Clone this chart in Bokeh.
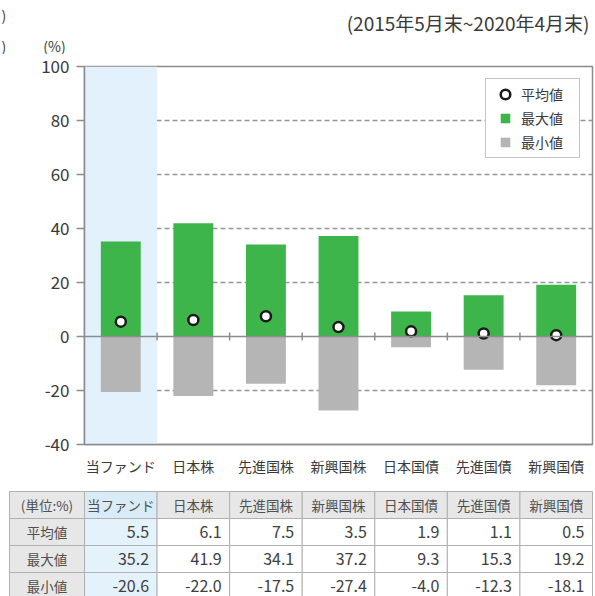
from bokeh.plotting import figure
from bokeh.models import (FactorRange, Range1d, FixedTicker, Span, Legend,
                          LegendItem, ColumnDataSource)
from bokeh.layouts import column
from bokeh.core.properties import value
from bokeh.embed import file_html
from bokeh.resources import INLINE

# ---------------- data ----------------
categories = ["当ファンド", "日本株", "先進国株", "新興国株", "日本国債", "先進国債", "新興国債"]
mean_vals = [5.5, 6.1, 7.5, 3.5, 1.9, 1.1, 0.5]
max_vals = [35.2, 41.9, 34.1, 37.2, 9.3, 15.3, 19.2]
min_vals = [-20.6, -22.0, -17.5, -27.4, -4.0, -12.3, -18.1]
row_labels = ["平均値", "最大値", "最小値"]
unit_label = "(単位:%)"
y_ticks = [-40, -20, 0, 20, 40, 60, 80, 100]
period_text = "(2015年5月末~2020年4月末)"
unit_text = "(%)"

FONT = "Noto Sans CJK JP"
GREEN = "#3db54a"
GRAY = "#b5b5b5"
BLUE = "#e2f1fc"
LINE = "#8c8c8c"
TXT = "#3a3a3a"
PAGE_W = 595

ymin, ymax = y_ticks[0], y_ticks[-1]


def no_align(fig):
    try:
        fig.frame_align = False
    except Exception:
        pass


# ---------------- header ----------------
HH = 54
h = figure(width=PAGE_W, height=HH, x_range=Range1d(0, PAGE_W), y_range=Range1d(HH, 0),
           output_backend="svg", toolbar_location=None, min_border=0,
           x_axis_location=None, y_axis_location=None)
h.grid.grid_line_color = None
h.outline_line_color = None
h.text(x=[589], y=[22], text=[period_text], text_align="right", text_baseline="middle",
       text_font=value(FONT), text_font_size="19px", text_color=TXT)
h.text(x=[54], y=[45], text=[unit_text], text_align="center", text_baseline="middle",
       text_font=value(FONT), text_font_size="14px", text_color=TXT)
# fragments of neighbouring content at the left edge
h.text(x=[1, 1], y=[14, 45], text=[")", ")"], text_align="left", text_baseline="middle",
       text_font=value(FONT), text_font_size="14px", text_color=TXT)
no_align(h)

# ---------------- chart ----------------
p = figure(width=PAGE_W, height=430, x_range=FactorRange(*categories, range_padding=0),
           y_range=Range1d(ymin, ymax), output_backend="svg", toolbar_location=None,
           min_border_left=84, min_border_right=3, min_border_top=12, min_border_bottom=40)
p.background_fill_color = "white"
p.border_fill_color = "white"
p.outline_line_color = LINE
p.outline_line_width = 1.5
no_align(p)

# highlighted first category band
p.vbar(x=[categories[0]], width=1, bottom=ymin, top=ymax, fill_color=BLUE, line_color=None)

# grid
p.xgrid.grid_line_color = None
p.ygrid.ticker = FixedTicker(ticks=[t for t in y_ticks if t not in (ymin, 0, ymax)])
p.ygrid.grid_line_color = "#959595"
p.ygrid.grid_line_dash = "5 3"
p.ygrid.grid_line_width = 1.3

src = ColumnDataSource(dict(cat=categories, mean=mean_vals, mx=max_vals, mn=min_vals))
p.vbar(x="cat", top="mx", bottom=0, width=0.55, source=src, fill_color=GREEN, line_color=None)
p.vbar(x="cat", top=0, bottom="mn", width=0.55, source=src, fill_color=GRAY, line_color=None)

p.add_layout(Span(location=0, dimension="width", line_color=LINE, line_width=1.5))
bounds = list(range(1, len(categories)))
p.segment(x0=bounds, x1=bounds, y0=[-1.5] * len(bounds), y1=[1.5] * len(bounds),
          line_color=LINE, line_width=1.5)

r_mean = p.scatter(x="cat", y="mean", source=src, marker="circle", size=10,
                   fill_color="white", line_color="#1a1a1a", line_width=2.5)

# legend proxies (zero-size markers; the legend sizes them from its glyph box)
px_max = p.scatter(x="cat", y="mx", source=src, marker="square", size=0, fill_color=GREEN, line_color=None)
px_min = p.scatter(x="cat", y="mn", source=src, marker="square", size=0, fill_color=GRAY, line_color=None)

legend = Legend(items=[LegendItem(label=row_labels[0], renderers=[r_mean]),
                       LegendItem(label=row_labels[1], renderers=[px_max]),
                       LegendItem(label=row_labels[2], renderers=[px_min])],
                location="top_right", margin=12, padding=3, spacing=0,
                glyph_width=32, glyph_height=24, label_height=24, label_width=55,
                label_standoff=0, label_text_font_size="14px", label_text_font=FONT,
                label_text_color=TXT, border_line_color=LINE, border_line_width=1.5,
                background_fill_color="white", background_fill_alpha=1)
p.add_layout(legend)

# axes
p.yaxis.ticker = FixedTicker(ticks=y_ticks)
p.yaxis.major_label_overrides = {t: str(t) for t in y_ticks}
p.yaxis.axis_line_color = LINE
p.yaxis.axis_line_width = 1.5
p.yaxis.major_tick_line_color = LINE
p.yaxis.major_tick_line_width = 1.5
p.yaxis.major_tick_out = 8
p.yaxis.major_tick_in = 0
p.yaxis.minor_tick_line_color = None
p.yaxis.major_label_text_font_size = "17px"
p.yaxis.major_label_text_font = FONT
p.yaxis.major_label_text_color = TXT
p.yaxis.major_label_standoff = 7

p.xaxis.axis_line_color = LINE
p.xaxis.axis_line_width = 1.5
p.xaxis.major_tick_line_color = None
p.xaxis.minor_tick_line_color = None
p.xaxis.major_label_text_font_size = "14px"
p.xaxis.major_label_text_font = FONT
p.xaxis.major_label_text_color = TXT
p.xaxis.major_label_standoff = 5

# ---------------- table ----------------
TH = 112
t = figure(width=PAGE_W, height=TH, x_range=Range1d(0, PAGE_W), y_range=Range1d(TH, 0),
           output_backend="svg", toolbar_location=None, min_border=0,
           x_axis_location=None, y_axis_location=None)
t.grid.grid_line_color = None
t.outline_line_color = None
t.background_fill_color = "white"
t.border_fill_color = "white"
no_align(t)

n = len(categories)
cw = (592 - 84) / n
xedges = [9, 84] + [84 + cw * (k + 1) for k in range(n)]
yedges = [7, 34, 61, 88, 115]

L, R, T, B, C = [], [], [], [], []
for r in range(4):
    for c in range(n + 1):
        L.append(xedges[c]); R.append(xedges[c + 1])
        T.append(yedges[r]); B.append(yedges[r + 1])
        if r == 0:
            C.append("#d9ebf7" if c == 1 else "#e7e7e7")
        elif c == 0:
            C.append("#e7e7e7")
        elif c == 1:
            C.append("#e4f2fc")
        else:
            C.append("white")
t.quad(left=L, right=R, top=T, bottom=B, fill_color=C, line_color="#b0b0b0", line_width=1)

hx = [(xedges[c] + xedges[c + 1]) / 2 for c in range(n + 1)]
hy = [(yedges[0] + yedges[1]) / 2] * (n + 1)
t.text(x=hx, y=hy, text=[unit_label] + categories, text_align="center", text_baseline="middle",
       text_font=value(FONT), text_font_size="13.5px", text_color="#505050")
ry = [(yedges[r] + yedges[r + 1]) / 2 for r in range(1, 4)]
t.text(x=[hx[0]] * 3, y=ry, text=row_labels, text_align="center", text_baseline="middle",
       text_font=value(FONT), text_font_size="13.5px", text_color="#505050")
vx, vy, vt = [], [], []
for r, vals in enumerate([mean_vals, max_vals, min_vals]):
    for c, v in enumerate(vals):
        vx.append(xedges[c + 2] - 8)
        vy.append(ry[r])
        vt.append(f"{v:.1f}")
t.text(x=vx, y=vy, text=vt, text_align="right", text_baseline="middle",
       text_font=value(FONT), text_font_size="16px", text_color="#404040")

layout = column(h, p, t, spacing=0)
open("out.html", "w").write(file_html(layout, INLINE))
